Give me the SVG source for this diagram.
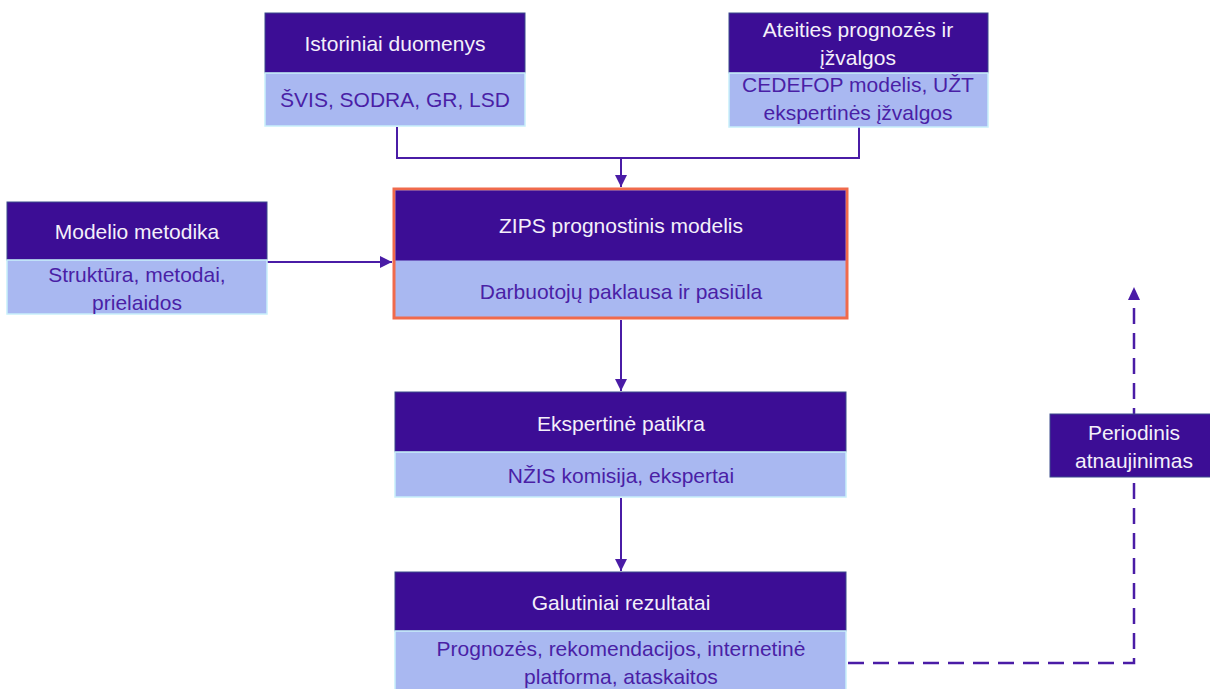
<svg xmlns="http://www.w3.org/2000/svg" width="1210" height="689" viewBox="0 0 1210 689">
<defs>
<style>
.hd{fill:#3c0d95;stroke:#3a4b8c;stroke-width:1}
.bd{fill:#a9b8f1;stroke:#c8effa;stroke-width:1.5}
.th{font-family:"Liberation Sans",Arial,sans-serif;font-size:21px;fill:#f4f0fa;text-anchor:middle}
.tb{font-family:"Liberation Sans",Arial,sans-serif;font-size:21px;fill:#4a1fa6;text-anchor:middle}
.ln{fill:none;stroke:#4a1ca6;stroke-width:2}
.dash{fill:none;stroke:#4a1ca6;stroke-width:2.5;stroke-dasharray:16,9}
</style>
<marker id="ah" viewBox="0 0 10 10" refX="10" refY="5" markerWidth="6" markerHeight="6" orient="auto" markerUnits="strokeWidth">
<path d="M0,0 L10,5 L0,10 z" fill="#4a1ca6"/>
</marker>
</defs>
<rect width="1210" height="689" fill="#ffffff"/>
<g id="connectors">
<path class="ln" d="M397,127 V158 H859 V127"/>
<path class="ln" d="M621,158 V187" marker-end="url(#ah)"/>
<path class="ln" d="M267,262 H392" marker-end="url(#ah)"/>
<path class="ln" d="M621,320 V391" marker-end="url(#ah)"/>
<path class="ln" d="M621,498 V571" marker-end="url(#ah)"/>
<path class="dash" d="M848,663 H1134 V298"/>
<path d="M1128,300 L1134,287 L1140,300 z" fill="#4a1ca6"/>
</g>
<g id="istoriniai">
<rect class="hd" x="265" y="13" width="260" height="60"/>
<rect class="bd" x="265" y="73" width="260" height="53"/>
<text class="th" x="395" y="51">Istoriniai duomenys</text>
<text class="tb" x="395" y="107">ŠVIS, SODRA, GR, LSD</text>
</g>
<g id="ateities">
<rect class="hd" x="729" y="13" width="259" height="60"/>
<rect class="bd" x="729" y="73" width="259" height="54"/>
<text class="th" x="858" y="37">Ateities prognozės ir</text>
<text class="th" x="858" y="65">įžvalgos</text>
<text class="tb" x="858" y="92">CEDEFOP modelis, UŽT</text>
<text class="tb" x="858" y="120">ekspertinės įžvalgos</text>
</g>
<g id="modelio">
<rect class="hd" x="7" y="202" width="260" height="58"/>
<rect class="bd" x="7" y="260" width="260" height="54"/>
<text class="th" x="137" y="239">Modelio metodika</text>
<text class="tb" x="137" y="282">Struktūra, metodai,</text>
<text class="tb" x="137" y="310">prielaidos</text>
</g>
<g id="zips">
<rect x="394" y="189" width="453" height="129" fill="#a9b8f1" stroke="#f06a4c" stroke-width="3"/>
<rect x="395.5" y="190.5" width="450" height="70" fill="#3c0d95"/>
<text class="th" x="621" y="233">ZIPS prognostinis modelis</text>
<text class="tb" x="621" y="299">Darbuotojų paklausa ir pasiūla</text>
</g>
<g id="ekspertine">
<rect class="hd" x="395" y="392" width="451" height="60"/>
<rect class="bd" x="395" y="452" width="451" height="45"/>
<text class="th" x="621" y="431">Ekspertinė patikra</text>
<text class="tb" x="621" y="483">NŽIS komisija, ekspertai</text>
</g>
<g id="galutiniai">
<rect class="hd" x="395" y="572" width="451" height="59"/>
<rect class="bd" x="395" y="631" width="451" height="60"/>
<text class="th" x="621" y="610">Galutiniai rezultatai</text>
<text class="tb" x="621" y="656">Prognozės, rekomendacijos, internetinė</text>
<text class="tb" x="621" y="684">platforma, ataskaitos</text>
</g>
<g id="periodinis">
<rect class="hd" x="1050" y="414" width="162" height="63"/>
<text class="th" x="1134" y="440">Periodinis</text>
<text class="th" x="1134" y="468">atnaujinimas</text>
</g>
</svg>
